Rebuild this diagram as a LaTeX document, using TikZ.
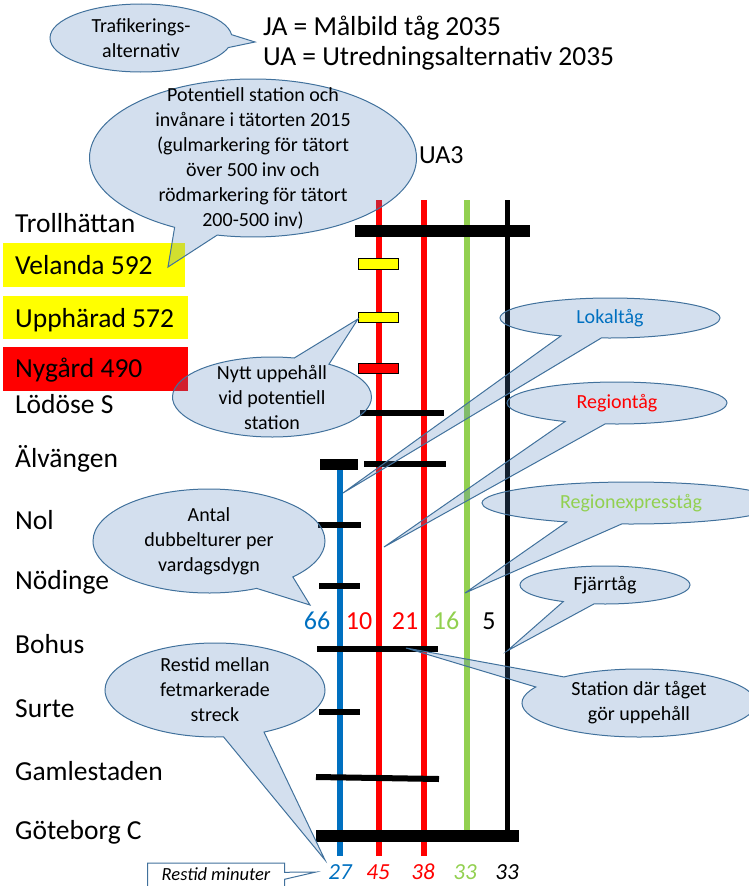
\documentclass[tikz,border=0pt]{standalone}
\usepackage{fontspec}
\setmainfont{Carlito}
\definecolor{trackBlue}{HTML}{0070C0}
\definecolor{trackRed}{HTML}{FF0000}
\definecolor{trackGreen}{HTML}{92D050}
\definecolor{popYellow}{HTML}{FFFF00}
\definecolor{popRed}{HTML}{FF0000}
\definecolor{bubbleFill}{HTML}{4F81BD}
\definecolor{bubbleEdge}{HTML}{41719C}
\usetikzlibrary{shapes.callouts}
\newcommand{\bigFont}{\fontsize{27.5}{33}\selectfont}
\newcommand{\midFont}{\fontsize{26}{31}\selectfont}
\newcommand{\bubFont}{\fontsize{20}{25}\selectfont}
\tikzset{
  bubble/.style={ellipse callout, draw=bubbleEdge, line width=1pt, fill=bubbleFill,
                 fill opacity=0.25, draw opacity=1, inner sep=0pt, callout pointer arc=22},
  bubtext/.style={align=center, font=\bubFont, inner sep=0pt},
  stnname/.style={anchor=base west, font=\bigFont, inner sep=0pt},
  freqlabel/.style={anchor=base, font=\midFont, inner sep=0pt},
  timelabel/.style={anchor=base, font=\fontsize{23}{28}\selectfont\itshape, inner sep=0pt},
  stopbar/.style={line width=6pt},
  mainbar/.style={line width=12pt},
  potstop/.style={draw=black, line width=1pt},
  track/.style={line width=6pt}
}

\begin{document}
\begin{tikzpicture}[x=1pt, y=-1pt]
  \useasboundingbox (0,0) rectangle (748,886);

  % highlighted station names
  \fill[popYellow] (3,243) rectangle (185,287);
  \fill[popYellow] (3,296) rectangle (188,339);
  \fill[popRed] (3,347) rectangle (188,391);

  \node[anchor=base west, font=\bigFont, inner sep=0pt] (ja) at (263,35) {JA = Målbild tåg 2035};
  \node[anchor=base west, font=\bigFont, inner sep=0pt] (ua) at (263,65) {UA = Utredningsalternativ 2035};
  \node[anchor=base west, font=\midFont, inner sep=0pt] (ua3) at (419,163) {UA3};

  \node[stnname] (trollhattan) at (15,232) {Trollhättan};
  \node[stnname] (velanda) at (15,274) {Velanda 592};
  \node[stnname] (upphard) at (15,327) {Upphärad 572};
  \node[stnname] (nygard) at (15,377) {Nygård 490};
  \node[stnname] (lodose) at (15,413) {Lödöse S};
  \node[stnname] (alvangen) at (15,467) {Älvängen};
  \node[stnname] (nol) at (15,529) {Nol};
  \node[stnname] (nodinge) at (15,589) {Nödinge};
  \node[stnname] (bohus) at (15,653) {Bohus};
  \node[stnname] (surte) at (15,717) {Surte};
  \node[stnname] (gamlestaden) at (15,780) {Gamlestaden};
  \node[stnname] (goteborg) at (15,839) {Göteborg C};

  % tracks
  \draw[track, trackBlue] (340,468) -- (340,856);
  \draw[track, trackRed] (379,200) -- (379,856);
  \draw[track, trackRed] (424,200) -- (424,856);
  \draw[track, trackGreen] (467,200) -- (467,830);
  \draw[track, black, line width=5pt] (507,200) -- (507,830);

  % stops
  \draw[mainbar] (355,231) -- (530,231);
  \draw[stopbar] (360,413) -- (444,413);
  \draw[line width=11pt] (320,464) -- (358,464);
  \draw[stopbar] (364,464) -- (446,464);
  \draw[stopbar] (318,525) -- (361,525);
  \draw[stopbar] (319,586) -- (360,586);
  \draw[stopbar] (317,649) -- (438,649);
  \draw[stopbar] (319,712) -- (360,712);
  \draw[stopbar] (316,777) -- (439,779);
  \draw[mainbar] (316,836) -- (519,836);

  \draw[potstop, fill=popYellow] (358,258) rectangle (398,269);
  \draw[potstop, fill=popYellow] (358,312) rectangle (398,322);
  \draw[potstop, fill=popRed] (358,363) rectangle (398,373);

  % trips per weekday
  \node[freqlabel, trackBlue] (f66) at (317,629) {66};
  \node[freqlabel, trackRed] (f10) at (359,629) {10};
  \node[freqlabel, trackRed] (f21) at (405,629) {21};
  \node[freqlabel, trackGreen] (f16) at (446,629) {16};
  \node[freqlabel, black] (f5) at (489,629) {5};

  % travel times
  \node[timelabel, trackBlue] (t27) at (340,879) {27};
  \node[timelabel, trackRed] (t45) at (378,879) {45};
  \node[timelabel, trackRed] (t38) at (423,879) {38};
  \node[timelabel, trackGreen] (t33g) at (465,879) {33};
  \node[timelabel, black] (t33b) at (507,879) {33};

  % callouts
  \coordinate (tipTraf) at (255,42);
  \coordinate (tipPot) at (168,267);
  \coordinate (tipNytt) at (358,319);
  \coordinate (tipLokal) at (343,493);
  \coordinate (tipRegion) at (384,547);
  \coordinate (tipRex) at (465,593);
  \coordinate (tipFjarr) at (507,651);
  \coordinate (tipStat) at (406,648);
  \coordinate (tipAntal) at (310,605);
  \coordinate (tipRestid) at (325,860);
  \coordinate (tipMin) at (316,872);

  \node[bubble, minimum width=182pt, minimum height=68pt, callout absolute pointer={(tipTraf)}] (trafBub) at (141,38) {};
  \node[bubtext] (trafTxt) at (trafBub.center) {Trafikerings-\\alternativ};

  \node[bubble, minimum width=327pt, minimum height=158pt, callout pointer arc=16, callout absolute pointer={(tipPot)}] (potBub) at (253,158) {};
  \node[bubtext] (potTxt) at (potBub.center) {Potentiell station och\\invånare i tätorten 2015\\(gulmarkering för tätort\\över 500 inv och\\rödmarkering för tätort\\200-500 inv)};

  \node[bubble, minimum width=199pt, minimum height=80pt, callout absolute pointer={(tipNytt)}] (nyttBub) at (272,397) {};
  \node[bubtext] (nyttTxt) at (nyttBub.center) {Nytt uppehåll\\vid potentiell\\station};

  \node[bubble, minimum width=220pt, minimum height=40pt, callout absolute pointer={(tipLokal)}] (lokalBub) at (610,318) {};
  \node[bubtext, trackBlue] (lokalTxt) at (lokalBub.center) {Lokaltåg};

  \node[bubble, minimum width=220pt, minimum height=42pt, callout absolute pointer={(tipRegion)}] (regionBub) at (617,403) {};
  \node[bubtext, trackRed] (regionTxt) at (regionBub.center) {Regiontåg};

  \node[bubble, minimum width=298pt, minimum height=42pt, callout absolute pointer={(tipRex)}] (rexBub) at (631,503) {};
  \node[bubtext, trackGreen] (rexTxt) at (rexBub.center) {Regionexpresståg};

  \node[bubble, minimum width=170pt, minimum height=38pt, callout absolute pointer={(tipFjarr)}] (fjarrBub) at (605,585) {};
  \node[bubtext] (fjarrTxt) at (fjarrBub.center) {Fjärrtåg};

  \node[bubble, minimum width=234pt, minimum height=68pt, callout absolute pointer={(tipStat)}] (statBub) at (639,703) {};
  \node[bubtext] (statTxt) at (statBub.center) {Station där tåget\\gör uppehåll};

  \node[bubble, minimum width=232pt, minimum height=104pt, callout absolute pointer={(tipAntal)}] (antalBub) at (209,541) {};
  \node[bubtext] (antalTxt) at (antalBub.center) {Antal\\dubbelturer per\\vardagsdygn};

  \node[bubble, minimum width=220pt, minimum height=94pt, callout absolute pointer={(tipRestid)}] (restidBub) at (215,690) {};
  \node[bubtext] (restidTxt) at (restidBub.center) {Restid mellan\\fetmarkerade\\streck};

  \node[rectangle callout, draw=bubbleEdge, line width=1pt, fill=white, minimum width=137pt, minimum height=42pt,
        callout pointer width=7pt, callout absolute pointer={(tipMin)}] (minBox) at (216,884) {};
  \node[anchor=base, font=\fontsize{18.5}{22}\selectfont\itshape, inner sep=0pt] (minTxt) at (216,880) {Restid minuter};
\end{tikzpicture}
\end{document}
